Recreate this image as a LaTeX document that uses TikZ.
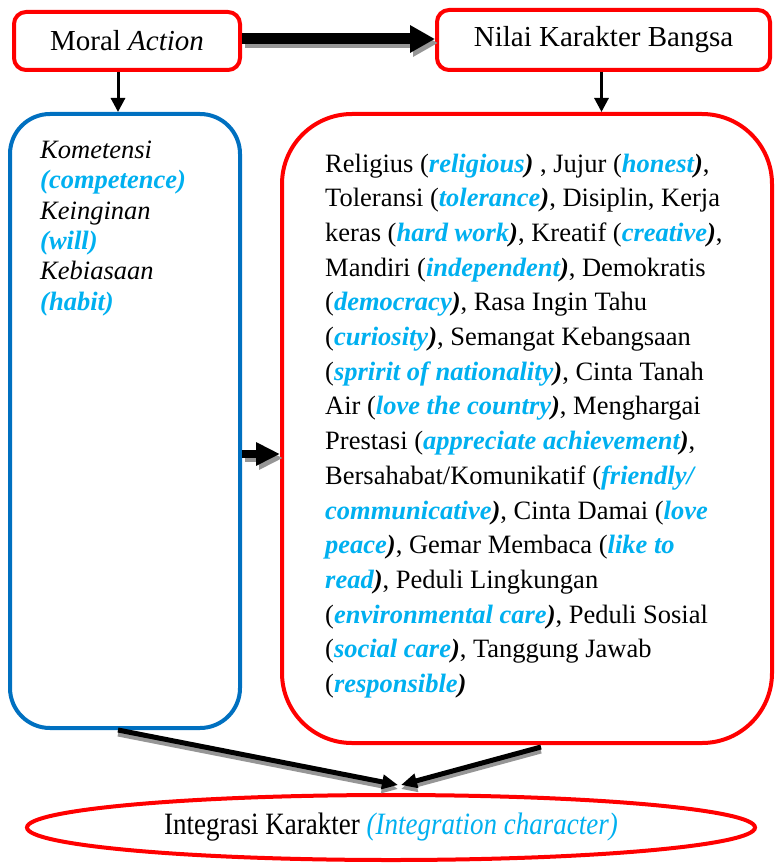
\documentclass[tikz,border=0pt]{standalone}
\usepackage{fontspec}
\setmainfont{Liberation Serif}
\usetikzlibrary{shapes.geometric,arrows.meta,calc}
\definecolor{boxred}{RGB}{255,0,0}
\definecolor{boxblue}{RGB}{0,112,192}
\definecolor{engcyan}{RGB}{0,176,240}
\definecolor{shadegray}{RGB}{150,150,150}
\newcommand{\eng}[1]{{\color{engcyan}\bfseries\itshape #1}}
\newcommand{\cp}{{\bfseries\itshape )}}
\begin{document}
\begin{tikzpicture}[x=1pt,y=-1pt,
  titlebox/.style={draw=boxred, line width=4pt, rounded corners=12pt, fill=white, inner sep=0pt, font=\fontsize{29}{34}\selectfont},
  bigred/.style={draw=boxred, line width=4pt, rounded corners=70pt, inner sep=0pt},
  bigblue/.style={draw=boxblue, line width=4pt, rounded corners=40pt, inner sep=0pt},
  bodytext/.style={inner sep=0pt, align=left, anchor=north west},
  blockarrow/.style={line width=11pt, -{Triangle[length=25pt,width=26pt]}},
  midarrow/.style={line width=8pt, -{Triangle[length=24pt,width=22pt]}},
  downarrow/.style={line width=3pt, -{Triangle[length=14pt,width=14pt]}},
  slantarrow/.style={line width=5pt, -{Triangle[length=16pt,width=14pt]}},
  shadowed/.style={shadegray, transform canvas={xshift=3pt, yshift=-4pt}},
  shadowdown/.style={shadegray, transform canvas={yshift=-4pt}}
]
\useasboundingbox (0,0) rectangle (776,864);
\fill[white] (0,0) rectangle (776,864);

% boxes
\node[titlebox, minimum width=226pt, minimum height=58pt] (ma) at (127,41) {Moral \textit{Action}};
\node[titlebox, minimum width=333pt, minimum height=60pt] (nk) at (603.5,40) {Nilai Karakter Bangsa};
\node[bigblue, minimum width=230pt, minimum height=614pt] (bb) at (125,421) {};
\node[bigred, minimum width=490pt, minimum height=629pt] (rb) at (527,428.5) {};
\node[draw=boxred, line width=4pt, ellipse, inner sep=0pt, minimum width=728pt, minimum height=65pt,
      font=\fontsize{27}{32}\selectfont] (el) at (391,827.5)
      {\scalebox{1}[1.15]{Integrasi Karakter {\color{engcyan}\itshape (Integration character)}}};

% texts
\node[bodytext, font=\fontsize{26.5}{30.4}\selectfont] (bbt) at (40,140.5)
  {\textit{Kometensi}\\ \eng{(competence)}\\ \textit{Keinginan}\\ \eng{(will)}\\ \textit{Kebiasaan}\\ \eng{(habit)}};
\node[bodytext, font=\fontsize{26.5}{34.7}\selectfont] (rbt) at (325,153.5)
  {Religius (\eng{religious}\cp{} , Jujur (\eng{honest}\cp,\\
   Toleransi (\eng{tolerance}\cp, Disiplin, Kerja\\
   keras (\eng{hard work}\cp, Kreatif (\eng{creative}\cp,\\
   Mandiri (\eng{independent}\cp, Demokratis\\
   (\eng{democracy}\cp, Rasa Ingin Tahu\\
   (\eng{curiosity}\cp, Semangat Kebangsaan\\
   (\eng{spririt of nationality}\cp, Cinta Tanah\\
   Air (\eng{love the country}\cp, Menghargai\\
   Prestasi (\eng{appreciate achievement}\cp,\\
   Bersahabat/Komunikatif (\eng{friendly/}\\
   \eng{communicative}\cp, Cinta Damai (\eng{love}\\
   \eng{peace}\cp, Gemar Membaca (\eng{like to}\\
   \eng{read}\cp, Peduli Lingkungan\\
   (\eng{environmental care}\cp, Peduli Sosial\\
   (\eng{social care}\cp, Tanggung Jawab\\
   (\eng{responsible}\cp};

% connector coordinates
\coordinate (t1) at ($(ma.east)+(0,-2)$);
\coordinate (t2) at ($(nk.west)+(0,-1)$);
\coordinate (d1) at ($(ma.south)+(-9,0)$);
\coordinate (d2) at ($(nk.south)+(-2,0)$);
\coordinate (m1) at ($(bb.east)+(0,33)$);
\coordinate (s1) at ($(bb.south)+(-7,0)$);
\coordinate (s2) at ($(rb.south)+(14,2)$);
\coordinate (e1) at ($(el.north)+(7,-8)$);
\coordinate (e2) at ($(el.north)+(10,-8)$);

% arrows
\draw[blockarrow, shadowed] (t1) -- (t1 -| t2);
\draw[blockarrow] (t1) -- (t1 -| t2);
\draw[midarrow, shadowed] (m1) -- (m1 -| rb.west);
\draw[midarrow] (m1) -- (m1 -| rb.west);
\draw[downarrow] (d1) -- (d1 |- bb.north);
\draw[downarrow] (d2) -- (d2 |- rb.north);
\draw[slantarrow, shadowdown] (s1) -- (e1);
\draw[slantarrow, shadowdown] (s2) -- (e2);
\draw[slantarrow] (s1) -- (e1);
\draw[slantarrow] (s2) -- (e2);
\end{tikzpicture}
\end{document}
